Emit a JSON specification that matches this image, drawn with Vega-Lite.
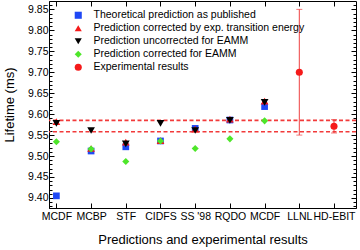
{
  "$schema": "https://vega.github.io/schema/vega-lite/v6.json",
  "width": 307,
  "height": 207,
  "autosize": {"type": "none"},
  "padding": {"left": 49, "top": 1, "right": 4, "bottom": 42},
  "background": "white",
  "config": {
    "font": "Liberation Sans",
    "view": {"stroke": "black", "strokeWidth": 1},
    "axis": {"grid": false, "domainColor": "black", "tickColor": "black", "labelColor": "black", "titleColor": "black", "titleFontWeight": "normal", "labelFont": "Liberation Sans", "titleFont": "Liberation Sans"}
  },
  "datasets": {
    "preds": [
      {"method": "MCDF", "order": 1, "series": "Theoretical prediction as published", "value": 9.405},
      {"method": "MCDF", "order": 1, "series": "Prediction corrected by exp. transition energy", "value": 9.582},
      {"method": "MCDF", "order": 1, "series": "Prediction uncorrected for EAMM", "value": 9.578},
      {"method": "MCDF", "order": 1, "series": "Prediction corrected for EAMM", "value": 9.534},
      {"method": "MCBP", "order": 2, "series": "Theoretical prediction as published", "value": 9.512},
      {"method": "MCBP", "order": 2, "series": "Prediction corrected by exp. transition energy", "value": 9.518},
      {"method": "MCBP", "order": 2, "series": "Prediction uncorrected for EAMM", "value": 9.561},
      {"method": "MCBP", "order": 2, "series": "Prediction corrected for EAMM", "value": 9.517},
      {"method": "STF", "order": 3, "series": "Theoretical prediction as published", "value": 9.522},
      {"method": "STF", "order": 3, "series": "Prediction corrected by exp. transition energy", "value": 9.533},
      {"method": "STF", "order": 3, "series": "Prediction uncorrected for EAMM", "value": 9.529},
      {"method": "STF", "order": 3, "series": "Prediction corrected for EAMM", "value": 9.487},
      {"method": "CIDFS", "order": 4, "series": "Theoretical prediction as published", "value": 9.536},
      {"method": "CIDFS", "order": 4, "series": "Prediction corrected by exp. transition energy", "value": 9.537},
      {"method": "CIDFS", "order": 4, "series": "Prediction uncorrected for EAMM", "value": 9.578},
      {"method": "CIDFS", "order": 4, "series": "Prediction corrected for EAMM", "value": 9.536},
      {"method": "SS '98", "order": 5, "series": "Theoretical prediction as published", "value": 9.566},
      {"method": "SS '98", "order": 5, "series": "Prediction corrected by exp. transition energy", "value": 9.564},
      {"method": "SS '98", "order": 5, "series": "Prediction uncorrected for EAMM", "value": 9.561},
      {"method": "SS '98", "order": 5, "series": "Prediction corrected for EAMM", "value": 9.518},
      {"method": "RQDO", "order": 6, "series": "Theoretical prediction as published", "value": 9.586},
      {"method": "RQDO", "order": 6, "series": "Prediction corrected by exp. transition energy", "value": 9.588},
      {"method": "RQDO", "order": 6, "series": "Prediction uncorrected for EAMM", "value": 9.585},
      {"method": "RQDO", "order": 6, "series": "Prediction corrected for EAMM", "value": 9.541},
      {"method": "MCDF", "order": 7, "series": "Theoretical prediction as published", "value": 9.618},
      {"method": "MCDF", "order": 7, "series": "Prediction corrected by exp. transition energy", "value": 9.631},
      {"method": "MCDF", "order": 7, "series": "Prediction uncorrected for EAMM", "value": 9.628},
      {"method": "MCDF", "order": 7, "series": "Prediction corrected for EAMM", "value": 9.584}
    ],
    "exps": [
      {"method": "LLNL", "order": 8, "series": "Experimental results", "value": 9.70, "lo": 9.55, "hi": 9.85},
      {"method": "HD-EBIT", "order": 9, "series": "Experimental results", "value": 9.571, "lo": 9.555, "hi": 9.587}
    ],
    "bounds": [
      {"bound": "upper", "value": 9.585},
      {"bound": "lower", "value": 9.558}
    ]
  },
  "resolve": {"axis": {"x": "independent", "y": "independent"}},
  "layer": [
    {
      "data": {"name": "bounds"},
      "mark": {"type": "rule", "color": "#f23a3a", "strokeWidth": 1.6, "strokeDash": [4, 2.5]},
      "encoding": {
        "y": {"field": "value", "type": "quantitative", "scale": {"domain": [9.376, 9.87], "nice": false, "zero": false},
          "axis": {"orient": "left", "values": [9.40, 9.45, 9.50, 9.55, 9.60, 9.65, 9.70, 9.75, 9.80, 9.85], "format": ".2f", "tickSize": -5, "labelPadding": 6, "labelFontSize": 10.5, "title": "Lifetime (ms)", "titleFontSize": 13, "titlePadding": 11, "domain": true}}
      }
    },
    {
      "data": {"name": "exps"},
      "mark": {"type": "rule", "color": "#ee4040", "strokeWidth": 1},
      "encoding": {
        "x": {"field": "order", "type": "quantitative", "scale": {"domain": [0.787, 9.634], "nice": false, "zero": false},
          "axis": {"orient": "bottom", "values": [1, 2, 3, 4, 5, 6, 7, 8, 9], "labelExpr": "[\"\", \"MCDF\", \"MCBP\", \"STF\", \"CIDFS\", \"SS '98\", \"RQDO\", \"MCDF\", \"LLNL\", \"HD-EBIT\"][datum.value]", "tickSize": -5, "labelPadding": 8, "labelFontSize": 10.5, "title": "Predictions and experimental results", "titleFontSize": 13, "titlePadding": 12}},
        "y": {"field": "lo", "type": "quantitative", "scale": {"domain": [9.376, 9.87], "nice": false, "zero": false},
          "axis": {"orient": "left", "values": [9.38, 9.39, 9.41, 9.42, 9.43, 9.44, 9.46, 9.47, 9.48, 9.49, 9.51, 9.52, 9.53, 9.54, 9.56, 9.57, 9.58, 9.59, 9.61, 9.62, 9.63, 9.64, 9.66, 9.67, 9.68, 9.69, 9.71, 9.72, 9.73, 9.74, 9.76, 9.77, 9.78, 9.79, 9.81, 9.82, 9.83, 9.84, 9.86], "labels": false, "tickSize": -3, "domain": false, "title": null}},
        "y2": {"field": "hi"}
      }
    },
    {
      "data": {"name": "exps"},
      "mark": {"type": "tick", "orient": "horizontal", "color": "#ee4040", "size": 6, "thickness": 1},
      "encoding": {
        "x": {"field": "order", "type": "quantitative", "scale": {"domain": [0.787, 9.634], "nice": false, "zero": false},
          "axis": {"orient": "top", "values": [1, 2, 3, 4, 5, 6, 7, 8, 9], "labels": false, "tickSize": -5, "domain": false, "title": null}},
        "y": {"field": "lo", "type": "quantitative", "scale": {"domain": [9.376, 9.87], "nice": false, "zero": false},
          "axis": {"orient": "right", "values": [9.40, 9.45, 9.50, 9.55, 9.60, 9.65, 9.70, 9.75, 9.80, 9.85], "labels": false, "tickSize": -5, "domain": false, "title": null}}
      }
    },
    {
      "data": {"name": "exps"},
      "mark": {"type": "tick", "orient": "horizontal", "color": "#ee4040", "size": 6, "thickness": 1},
      "encoding": {
        "x": {"field": "order", "type": "quantitative", "scale": {"domain": [0.787, 9.634], "nice": false, "zero": false}, "axis": null},
        "y": {"field": "hi", "type": "quantitative", "scale": {"domain": [9.376, 9.87], "nice": false, "zero": false},
          "axis": {"orient": "right", "values": [9.38, 9.39, 9.41, 9.42, 9.43, 9.44, 9.46, 9.47, 9.48, 9.49, 9.51, 9.52, 9.53, 9.54, 9.56, 9.57, 9.58, 9.59, 9.61, 9.62, 9.63, 9.64, 9.66, 9.67, 9.68, 9.69, 9.71, 9.72, 9.73, 9.74, 9.76, 9.77, 9.78, 9.79, 9.81, 9.82, 9.83, 9.84, 9.86], "labels": false, "tickSize": -3, "domain": false, "title": null}}
      }
    },
    {
      "data": {"name": "preds"},
      "transform": [{"filter": "datum.series == 'Theoretical prediction as published'"}],
      "mark": {"type": "point", "filled": true, "opacity": 1, "size": 45},
      "encoding": {
        "x": {"field": "order", "type": "quantitative", "scale": {"domain": [0.787, 9.634], "nice": false, "zero": false}, "axis": null},
        "y": {"field": "value", "type": "quantitative", "scale": {"domain": [9.376, 9.87], "nice": false, "zero": false}, "axis": null},
        "color": {"field": "series", "type": "nominal",
          "scale": {"domain": ["Theoretical prediction as published", "Prediction corrected by exp. transition energy", "Prediction uncorrected for EAMM", "Prediction corrected for EAMM", "Experimental results"], "range": ["#1f48f5", "#f51a1a", "#000000", "#4ee62a", "#f51a1a"]},
          "legend": {"title": null, "orient": "none", "legendX": 24, "legendY": 9, "labelFontSize": 10.5, "labelFont": "Liberation Sans", "labelColor": "black", "symbolSize": 50, "rowPadding": 2, "labelOffset": 10, "labelLimit": 400}},
        "shape": {"field": "series", "type": "nominal",
          "scale": {"domain": ["Theoretical prediction as published", "Prediction corrected by exp. transition energy", "Prediction uncorrected for EAMM", "Prediction corrected for EAMM", "Experimental results"], "range": ["square", "triangle-up", "triangle-down", "diamond", "circle"]}}
      }
    },
    {
      "data": {"name": "preds"},
      "transform": [{"filter": "datum.series == 'Prediction corrected by exp. transition energy'"}],
      "mark": {"type": "point", "filled": true, "opacity": 1, "size": 60, "dx": 3.5},
      "encoding": {
        "x": {"field": "order", "type": "quantitative", "scale": {"domain": [0.787, 9.634], "nice": false, "zero": false}, "axis": null},
        "y": {"field": "value", "type": "quantitative", "scale": {"domain": [9.376, 9.87], "nice": false, "zero": false}, "axis": null},
        "color": {"field": "series", "type": "nominal"},
        "shape": {"field": "series", "type": "nominal"}
      }
    },
    {
      "data": {"name": "preds"},
      "transform": [{"filter": "datum.series == 'Prediction uncorrected for EAMM'"}],
      "mark": {"type": "point", "filled": true, "opacity": 1, "size": 60, "dx": 7},
      "encoding": {
        "x": {"field": "order", "type": "quantitative", "scale": {"domain": [0.787, 9.634], "nice": false, "zero": false}, "axis": null},
        "y": {"field": "value", "type": "quantitative", "scale": {"domain": [9.376, 9.87], "nice": false, "zero": false}, "axis": null},
        "color": {"field": "series", "type": "nominal"},
        "shape": {"field": "series", "type": "nominal"}
      }
    },
    {
      "data": {"name": "preds"},
      "transform": [{"filter": "datum.series == 'Prediction corrected for EAMM'"}],
      "mark": {"type": "point", "filled": true, "opacity": 1, "size": 50, "dx": 10.5},
      "encoding": {
        "x": {"field": "order", "type": "quantitative", "scale": {"domain": [0.787, 9.634], "nice": false, "zero": false}, "axis": null},
        "y": {"field": "value", "type": "quantitative", "scale": {"domain": [9.376, 9.87], "nice": false, "zero": false}, "axis": null},
        "color": {"field": "series", "type": "nominal"},
        "shape": {"field": "series", "type": "nominal"}
      }
    },
    {
      "data": {"name": "exps"},
      "mark": {"type": "point", "filled": true, "opacity": 1, "size": 50},
      "encoding": {
        "x": {"field": "order", "type": "quantitative", "scale": {"domain": [0.787, 9.634], "nice": false, "zero": false}, "axis": null},
        "y": {"field": "value", "type": "quantitative", "scale": {"domain": [9.376, 9.87], "nice": false, "zero": false}, "axis": null},
        "color": {"field": "series", "type": "nominal"},
        "shape": {"field": "series", "type": "nominal"}
      }
    }
  ]
}
